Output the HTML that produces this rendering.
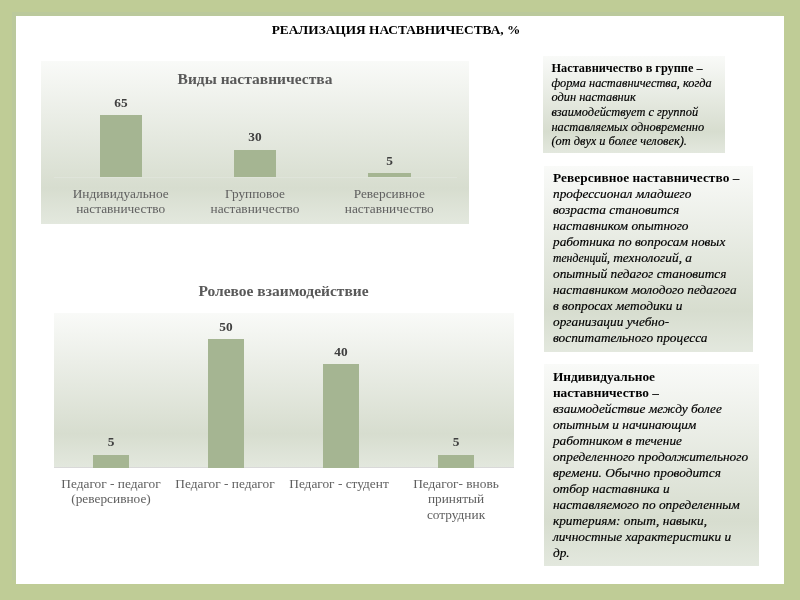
<!DOCTYPE html>
<html lang="ru">
<head>
<meta charset="utf-8">
<title>Реализация наставничества</title>
<style>
html,body{margin:0;padding:0;}
body{width:800px;height:600px;background:#bfcc96;position:relative;overflow:hidden;font-family:"Liberation Serif",serif;}
#page{position:absolute;left:16px;top:16px;width:768px;height:567.5px;background:#fff;box-shadow:-4px -4px 0 0 rgba(176,190,178,0.2);}
.abs{position:absolute;}
#title{left:0;width:792px;top:19.5px;text-align:center;font-weight:bold;font-size:13.33px;line-height:20px;color:#000;white-space:nowrap;}
.chartbg{background:linear-gradient(to bottom,#f9faf8 0%,#d7ddcf 78%,#e3e8de 100%);}
#c1{left:41px;top:61px;width:428px;height:163px;}
#c2{left:53.5px;top:313px;width:460px;height:154.7px;}
.ctitle{font-weight:bold;font-size:15.5px;line-height:20px;color:#595959;text-align:center;white-space:nowrap;}
.bar{position:absolute;background:#a5b592;}
.dl{position:absolute;width:60px;text-align:center;font-weight:bold;font-size:13.33px;line-height:16px;color:#404040;}
.cl{position:absolute;width:140px;text-align:center;font-size:13.33px;line-height:15.4px;color:#606060;}
.axis{position:absolute;height:1px;background:#dfe4da;}
.box{position:absolute;box-sizing:border-box;padding:4px 0 0 8.5px;color:#000;background:linear-gradient(to bottom,#f9faf8 0%,#d7ddcf 78%,#e3e8de 100%);white-space:nowrap;}
.box b{font-style:normal;}
.box i{font-style:italic;-webkit-text-stroke:0.18px #000;}
#b1{left:543.3px;top:56px;width:181.4px;height:97.1px;padding-left:8.2px;font-size:12.3px;line-height:14.65px;padding-top:5px;}
#b1 i{font-size:12.36px;}
#b2 b{letter-spacing:0.06px;}
#b2{left:544.3px;top:166px;width:208.7px;height:185.5px;font-size:13.33px;line-height:16px;padding-top:3.5px;padding-left:8.7px;}
#b3{left:544.4px;top:364.4px;width:214.6px;height:201.5px;font-size:13.33px;line-height:16px;padding-top:4.5px;}
</style>
</head>
<body>
<div id="page"></div>
<div id="title" class="abs">РЕАЛИЗАЦИЯ НАСТАВНИЧЕСТВА, %</div>

<div id="c1" class="abs chartbg"></div>
<div id="t1" class="abs ctitle" style="left:41px;width:428px;top:69px;">Виды наставничества</div>
<div class="axis" style="left:53.5px;width:403px;top:177px;"></div>
<div class="bar" style="left:99.7px;width:42.1px;top:115px;height:62.3px;"></div>
<div class="bar" style="left:233.9px;width:42.2px;top:149.6px;height:27.7px;"></div>
<div class="bar" style="left:368px;width:42.6px;top:173px;height:4.4px;"></div>
<div class="dl" id="d65" style="left:91px;top:94.5px;">65</div>
<div class="dl" style="left:225px;top:129px;">30</div>
<div class="dl" style="left:359.5px;top:153px;">5</div>
<div class="cl" id="l1" style="left:50.7px;top:186px;">Индивидуальное<br>наставничество</div>
<div class="cl" style="left:185px;top:186px;">Групповое<br>наставничество</div>
<div class="cl" style="left:319.3px;top:186px;">Реверсивное<br>наставничество</div>

<div id="t2" class="abs ctitle" style="left:53.5px;width:460px;top:281px;">Ролевое взаимодействие</div>
<div id="c2" class="abs chartbg"></div>
<div class="axis" style="left:53.5px;width:460px;top:467px;background:#d9d9d9;"></div>
<div class="bar" style="left:93px;width:36px;top:454.5px;height:13px;"></div>
<div class="bar" style="left:207.8px;width:36.2px;top:339px;height:128.5px;"></div>
<div class="bar" style="left:322.8px;width:36.2px;top:364px;height:103.5px;"></div>
<div class="bar" style="left:437.5px;width:36.2px;top:454.5px;height:13px;"></div>
<div class="dl" style="left:81px;top:434px;">5</div>
<div class="dl" id="d50" style="left:196px;top:318.6px;">50</div>
<div class="dl" style="left:311px;top:344px;">40</div>
<div class="dl" style="left:426px;top:434px;">5</div>
<div class="cl" id="l21" style="left:41px;top:476px;">Педагог - педагог<br>(реверсивное)</div>
<div class="cl" style="left:155px;top:476px;">Педагог - педагог</div>
<div class="cl" style="left:269px;top:476px;">Педагог - студент</div>
<div class="cl" style="left:386px;top:476px;">Педагог- вновь<br>принятый<br>сотрудник</div>

<div id="b1" class="box"><b>Наставничество в группе –</b><br><i>форма наставничества, когда<br>один наставник<br>взаимодействует с группой<br>наставляемых одновременно<br>(от двух и более человек).</i></div>

<div id="b2" class="box"><b>Реверсивное наставничество –</b><br><i>профессионал младшего<br>возраста становится<br>наставником опытного<br>работника по вопросам новых<br><span style="font-size:11.7px;line-height:0">тенденций,</span> технологий, а<br>опытный педагог становится<br>наставником молодого педагога<br>в вопросах методики и<br>организации учебно-<br>воспитательного процесса</i></div>

<div id="b3" class="box"><b>Индивидуальное<br>наставничество –</b><br><i>взаимодействие между более<br>опытным и начинающим<br>работником в течение<br>определенного продолжительного<br>времени. Обычно проводится<br>отбор наставника и<br>наставляемого по определенным<br>критериям: опыт, навыки,<br>личностные характеристики и<br>др.</i></div>
</body>
</html>
